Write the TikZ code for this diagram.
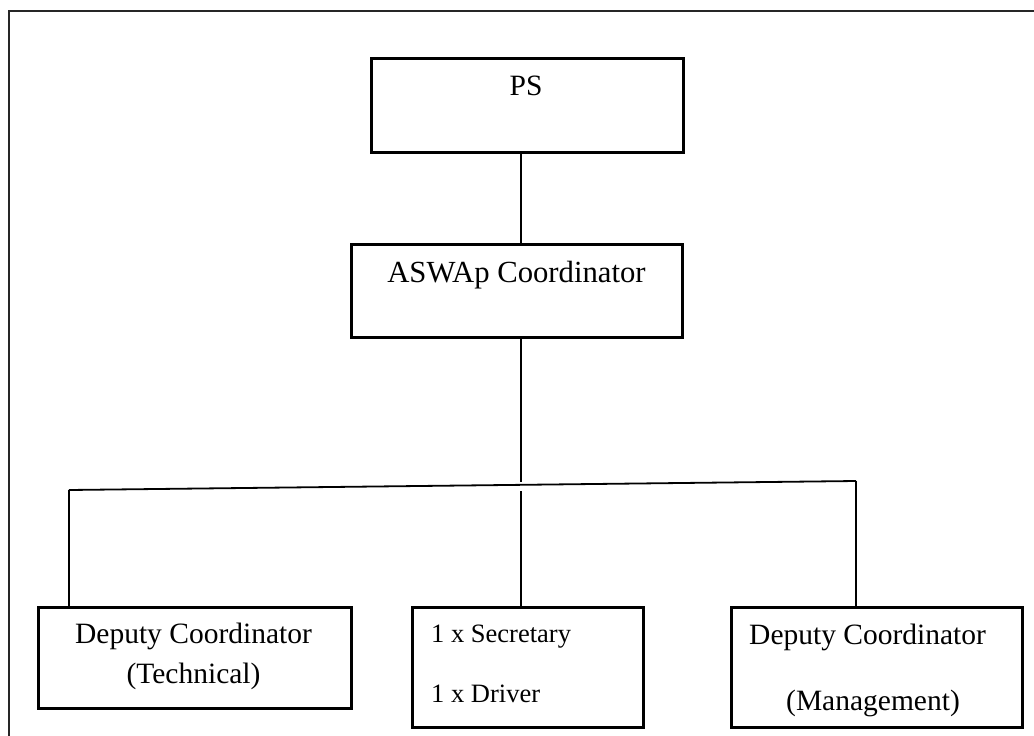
\documentclass[tikz,border=0pt]{standalone}
\usepackage{fontspec}
\setmainfont{Liberation Serif}
\begin{document}
\begin{tikzpicture}[x=1pt,y=-1pt,
  box/.style={draw, line width=2.6pt, rectangle, inner sep=0pt, anchor=north west},
  link/.style={line width=1.8pt},
  lbl/.style={inner sep=0pt, anchor=base, font=\fontsize{29.5}{35}\selectfont},
  lblw/.style={inner sep=0pt, anchor=base west, font=\fontsize{29.5}{35}\selectfont},
  lblsmall/.style={inner sep=0pt, anchor=base west, font=\fontsize{26.5}{32}\selectfont}]
\useasboundingbox (0,0) rectangle (1034,736);

% page frame
\draw[line width=2.2pt, black!85] (1034,11) -- (9,11) -- (9,736);

% boxes
\node[box, minimum width=312pt, minimum height=94pt]  (ps)    at (370,57)  {};
\node[box, minimum width=331pt, minimum height=93pt]  (asw)   at (350,243) {};
\node[box, minimum width=313pt, minimum height=101pt] (tech)  at (37,606)  {};
\node[box, minimum width=231pt, minimum height=120pt] (staff) at (411,606) {};
\node[box, minimum width=291pt, minimum height=120pt] (mgmt)  at (730,606) {};

% labels
\node[lbl]  (tps)   at (526,95)  {PS};
\node[lbl, font=\fontsize{30.7}{36}\selectfont] (tasw) at (516.5,282) {ASWAp Coordinator};
\node[lbl]  (ttech1) at (193.5,643) {Deputy Coordinator};
\node[lbl]  (ttech2) at (193.5,683) {(Technical)};
\node[lblsmall] (tsec) at (431,642) {1 x Secretary};
\node[lblsmall] (tdrv) at (431,702) {1 x Driver};
\node[lblw] (tmg1) at (749,644) {Deputy Coordinator};
\node[lbl]  (tmg2) at (873,710) {(Management)};

% branching points
\coordinate (jl) at (69,490);
\coordinate (jr) at (856,481);
\coordinate (jt) at (521,482);
\coordinate (jb) at (521,491);

% connectors
\draw[link] (ps.south -| jt) -- (asw.north -| jt);
\draw[link] (asw.south -| jt) -- (jt);
\draw[link] (jl) -- (jr);
\draw[link] (jl) -- (tech.north -| jl);
\draw[link] (jb) -- (staff.north -| jb);
\draw[link] (jr) -- (mgmt.north -| jr);
\end{tikzpicture}
\end{document}
